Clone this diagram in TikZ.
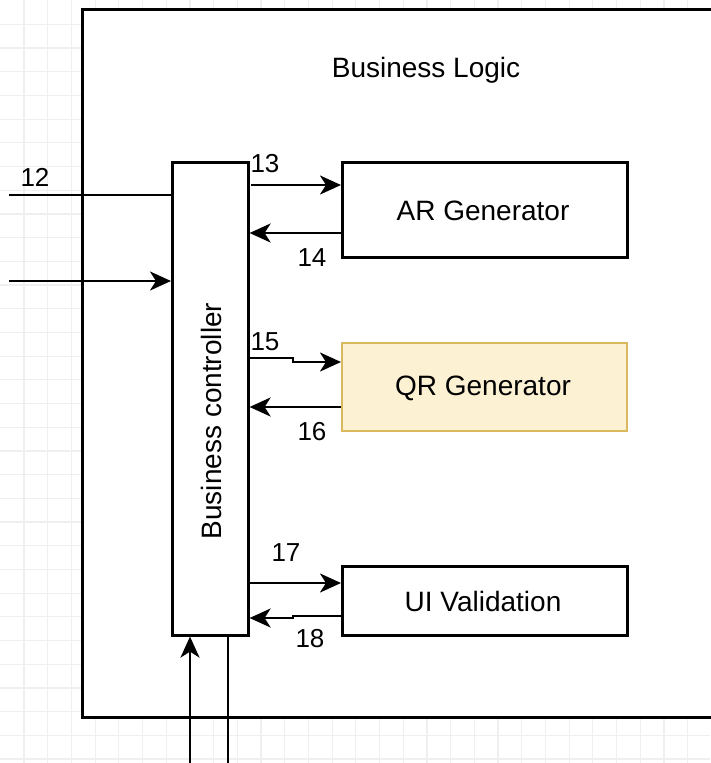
\documentclass[tikz,border=0pt]{standalone}
\usepackage{fontspec}
\setmainfont{Liberation Sans}
\usetikzlibrary{arrows.meta}
\definecolor{gridgray}{HTML}{EFEFEF}
\definecolor{qrfill}{HTML}{FCF1D3}
\definecolor{qrdraw}{HTML}{D9B95E}
\tikzset{
  x=1pt, y=-1pt,
  wire/.style={line width=2.6pt, draw=black},
  flow/.style={wire, -{Stealth[length=21pt, width=19pt, inset=6pt]}},
  block/.style={draw=black, line width=2.6pt, fill=white, inner sep=0pt},
  lbl/.style={font=\fontsize{28}{33}\selectfont, inner sep=0pt},
  num/.style={font=\fontsize{26}{30}\selectfont, inner sep=0pt},
}
\begin{document}
\begin{tikzpicture}
\useasboundingbox (0,0) rectangle (710,763);
\fill[white] (0,0) rectangle (710,763);
% background grid
\foreach \i in {0,...,30} {
  \draw[gridgray, line width=1.2pt] ({24+23.7*\i},0) -- ({24+23.7*\i},763);
}
\foreach \j in {0,...,31} {
  \draw[gridgray, line width=1.2pt] (0,{24.3+23.7*\j}) -- (710,{24.3+23.7*\j});
}
% outer container
\node[block, minimum width=640pt, minimum height=708pt, anchor=north west] (logic) at (81,8) {};
\node[lbl] (logictitle) at (426,70) {Business Logic};
% blocks
\node[block, minimum width=76pt, minimum height=473pt, anchor=north west] (ctrl) at (171,161) {};
\node[lbl, rotate=90] (ctrltext) at (211,421) {Business controller};
\node[block, minimum width=285pt, minimum height=95pt, anchor=north west] (ar) at (341,161) {};
\node[lbl] (artext) at (483,211) {AR Generator};
\node[block, draw=qrdraw, line width=1.8pt, fill=qrfill, minimum width=285pt, minimum height=88pt, anchor=north west] (qr) at (341,342) {};
\node[lbl] (qrtext) at (483,388) {QR Generator};
\node[block, minimum width=285pt, minimum height=69pt, anchor=north west] (ui) at (341,565) {};
\node[lbl] (uitext) at (483,601) {UI Validation};
% free ends
\coordinate (in12) at (9,195);
\coordinate (inb) at (9,281);
\coordinate (bot1) at (190,763);
\coordinate (bot2) at (228,763);
% connectors
\draw[wire] (in12) -- (in12 -| ctrl.west);
\draw[flow] (inb) -- (inb -| ctrl.west);
\draw[flow] (251,185) -- (ar.west |- 0,185);
\draw[flow] (ar.west |- 0,233) -- (ctrl.east |- 0,233);
\draw[flow] (ctrl.east |- 0,358) -- (293,358) -- (293,362) -- (qr.west |- 0,362);
\draw[flow] (qr.west |- 0,407) -- (ctrl.east |- 0,407);
\draw[flow] (ctrl.east |- 0,583) -- (ui.west |- 0,583);
\draw[flow] (ui.west |- 0,616) -- (293,616) -- (293,618) -- (ctrl.east |- 0,618);
\draw[flow] (bot1) -- (bot1 |- ctrl.south);
\draw[wire] (bot2 |- ctrl.south) -- (bot2);
% labels
\node[num] (n12) at (35,177) {12};
\node[num] (n13) at (265,164) {13};
\node[num] (n14) at (312,258) {14};
\node[num] (n15) at (265,342) {15};
\node[num] (n16) at (312,432) {16};
\node[num] (n17) at (286,553) {17};
\node[num] (n18) at (310,639) {18};
\end{tikzpicture}
\end{document}
